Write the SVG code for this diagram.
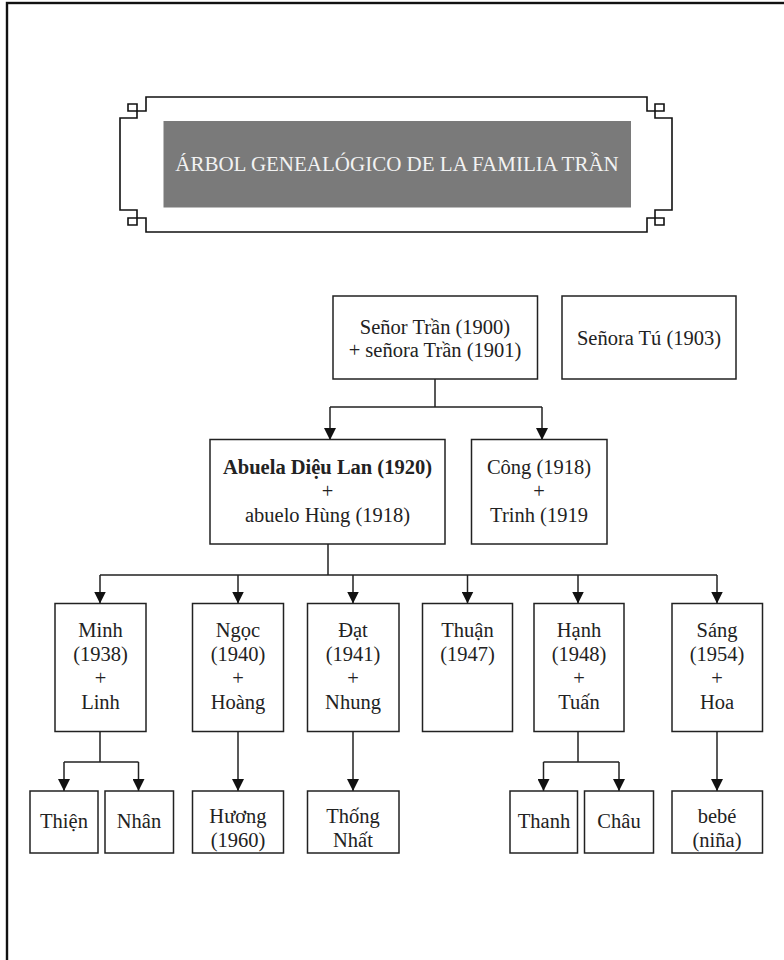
<svg xmlns="http://www.w3.org/2000/svg" width="784" height="960" viewBox="0 0 784 960">
<defs>
<style>
.box{fill:#fff;stroke:#222;stroke-width:1.5}
.t{font-family:"Liberation Serif","Times New Roman",serif;font-size:20.5px;fill:#222;text-anchor:middle}
.b{font-weight:bold}
.ln{fill:none;stroke:#222;stroke-width:1.5}
.frame{fill:none;stroke:#111;stroke-width:1.6}
</style>
<marker id="arr" viewBox="0 0 12 12" refX="12" refY="6" markerWidth="12" markerHeight="12" markerUnits="userSpaceOnUse" orient="auto">
<path d="M0,0 L12,6 L0,12 z" fill="#111"/>
</marker>
</defs>
<rect width="784" height="960" fill="#fff"/>
<rect x="7" y="3" width="820" height="1000" fill="none" stroke="#111" stroke-width="2.4"/>

<g id="title">
<path class="frame" d="M146,97 V111 H128 V104 H137 V118 H120 V210 H137 V225 H128 V218 H146 V232 H647 V218 H664 V225 H655 V210 H672 V118 H655 V104 H664 V111 H647 V97 Z"/>
<rect x="163.5" y="121" width="467.5" height="86.5" fill="#7a7a7a"/>
<text x="397" y="171" style="font-family:'Liberation Serif','Times New Roman',serif;font-size:21px;fill:#f2f2f2;text-anchor:middle">ÁRBOL GENEALÓGICO DE LA FAMILIA TRẦN</text>
</g>

<g id="connectors">
<path class="ln" d="M435,379 V407 M330,407 H542"/>
<path class="ln" d="M330,407 V440" marker-end="url(#arr)"/>
<path class="ln" d="M542,407 V440" marker-end="url(#arr)"/>
<path class="ln" d="M328,544 V575 M100,575 H717"/>
<path class="ln" d="M100,575 V603.5" marker-end="url(#arr)"/>
<path class="ln" d="M238,575 V603.5" marker-end="url(#arr)"/>
<path class="ln" d="M353,575 V603.5" marker-end="url(#arr)"/>
<path class="ln" d="M467.5,575 V603.5" marker-end="url(#arr)"/>
<path class="ln" d="M578,575 V603.5" marker-end="url(#arr)"/>
<path class="ln" d="M717,575 V603.5" marker-end="url(#arr)"/>
<path class="ln" d="M100,731.5 V762 M64,762 H138.5"/>
<path class="ln" d="M64,762 V791" marker-end="url(#arr)"/>
<path class="ln" d="M138.5,762 V791" marker-end="url(#arr)"/>
<path class="ln" d="M238,731.5 V791" marker-end="url(#arr)"/>
<path class="ln" d="M353,731.5 V791" marker-end="url(#arr)"/>
<path class="ln" d="M578,731.5 V762 M543.5,762 H619"/>
<path class="ln" d="M543.5,762 V791" marker-end="url(#arr)"/>
<path class="ln" d="M619,762 V791" marker-end="url(#arr)"/>
<path class="ln" d="M717,731.5 V791" marker-end="url(#arr)"/>
</g>

<g id="senor-tran">
<rect class="box" x="333" y="296" width="204.5" height="83"/>
<text class="t" x="435" y="334">Señor Trần (1900)</text>
<text class="t" x="435" y="357">+ señora Trần (1901)</text>
</g>
<g id="senora-tu">
<rect class="box" x="562" y="296" width="174" height="83"/>
<text class="t" x="649" y="345">Señora Tú (1903)</text>
</g>

<g id="abuela">
<rect class="box" x="210" y="439.5" width="235" height="104.5"/>
<text class="t b" x="327.5" y="474">Abuela Diệu Lan (1920)</text>
<text class="t" x="327.5" y="498">+</text>
<text class="t" x="327.5" y="522">abuelo Hùng (1918)</text>
</g>
<g id="cong">
<rect class="box" x="471.5" y="439.5" width="135.5" height="104.5"/>
<text class="t" x="539" y="474">Công (1918)</text>
<text class="t" x="539" y="498">+</text>
<text class="t" x="539" y="522">Trinh (1919</text>
</g>

<g id="minh">
<rect class="box" x="55" y="603.5" width="91" height="128"/>
<text class="t" x="100.5" y="637">Minh</text>
<text class="t" x="100.5" y="661">(1938)</text>
<text class="t" x="100.5" y="685">+</text>
<text class="t" x="100.5" y="709">Linh</text>
</g>
<g id="ngoc">
<rect class="box" x="192.5" y="603.5" width="91" height="128"/>
<text class="t" x="238" y="637">Ngọc</text>
<text class="t" x="238" y="661">(1940)</text>
<text class="t" x="238" y="685">+</text>
<text class="t" x="238" y="709">Hoàng</text>
</g>
<g id="dat">
<rect class="box" x="307.5" y="603.5" width="91.5" height="128"/>
<text class="t" x="353" y="637">Đạt</text>
<text class="t" x="353" y="661">(1941)</text>
<text class="t" x="353" y="685">+</text>
<text class="t" x="353" y="709">Nhung</text>
</g>
<g id="thuan">
<rect class="box" x="422.5" y="603.5" width="90" height="128"/>
<text class="t" x="467.5" y="637">Thuận</text>
<text class="t" x="467.5" y="661">(1947)</text>
</g>
<g id="hanh">
<rect class="box" x="534" y="603.5" width="90" height="128"/>
<text class="t" x="579" y="637">Hạnh</text>
<text class="t" x="579" y="661">(1948)</text>
<text class="t" x="579" y="685">+</text>
<text class="t" x="579" y="709">Tuấn</text>
</g>
<g id="sang">
<rect class="box" x="672" y="603.5" width="90.5" height="128"/>
<text class="t" x="717" y="637">Sáng</text>
<text class="t" x="717" y="661">(1954)</text>
<text class="t" x="717" y="685">+</text>
<text class="t" x="717" y="709">Hoa</text>
</g>

<g id="thien">
<rect class="box" x="30" y="791" width="68" height="62"/>
<text class="t" x="64" y="828">Thiện</text>
</g>
<g id="nhan">
<rect class="box" x="105" y="791" width="68.5" height="62"/>
<text class="t" x="139" y="828">Nhân</text>
</g>
<g id="huong">
<rect class="box" x="192.5" y="791" width="91" height="62"/>
<text class="t" x="238" y="823">Hương</text>
<text class="t" x="238" y="847">(1960)</text>
</g>
<g id="thong-nhat">
<rect class="box" x="307.5" y="791" width="91.5" height="62"/>
<text class="t" x="353" y="823">Thống</text>
<text class="t" x="353" y="847">Nhất</text>
</g>
<g id="thanh">
<rect class="box" x="510" y="791" width="67.5" height="62"/>
<text class="t" x="544" y="828">Thanh</text>
</g>
<g id="chau">
<rect class="box" x="584.5" y="791" width="69" height="62"/>
<text class="t" x="619" y="828">Châu</text>
</g>
<g id="bebe">
<rect class="box" x="672" y="791" width="90.5" height="62"/>
<text class="t" x="717" y="823">bebé</text>
<text class="t" x="717" y="847">(niña)</text>
</g>
</svg>
